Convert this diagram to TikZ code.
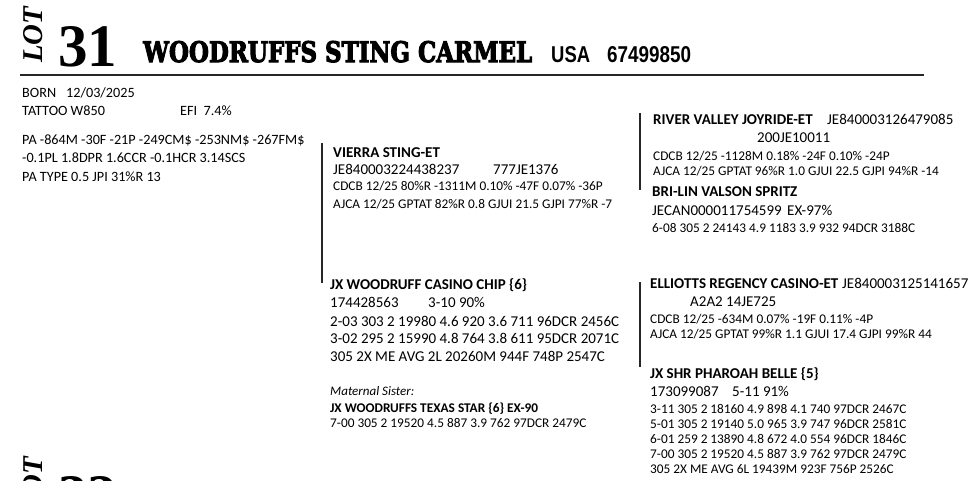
\documentclass[tikz,border=0pt]{standalone}
\usepackage{fontspec}
\usepackage{graphicx}
\newfontfamily\carlito{Carlito}
\newfontfamily\lotserif{Liberation Serif}
\newfontfamily\slabfont{DejaVu Serif}[UprightFont=* Bold, FakeBold=4]
\newfontfamily\narrowsans{Liberation Sans}
\tikzset{
  txt/.style={inner sep=0pt, anchor=base west},
  big/.style={txt, font=\carlito\fontsize{15}{18}\selectfont},
  bigb/.style={txt, font=\carlito\bfseries\fontsize{15}{18}\selectfont},
  mid/.style={txt, font=\carlito\fontsize{14.2}{17}\selectfont},
  sml/.style={txt, font=\carlito\fontsize{13.3}{16}\selectfont},
  smlb/.style={txt, font=\carlito\bfseries\fontsize{13.3}{16}\selectfont},
  smli/.style={txt, font=\carlito\itshape\fontsize{13}{16}\selectfont},
  bracket/.style={line width=1.8pt, black!85},
  rule/.style={line width=2.4pt, black!85},
}
\newcommand{\lotword}{\resizebox{56pt}{19pt}{\lotserif\bfseries\itshape LOT}}
\begin{document}
\begin{tikzpicture}[x=1pt,y=-1pt]
\useasboundingbox (0,0) rectangle (976,480);
\clip (0,0) rectangle (976,480);
% header
\node[txt, rotate=90] (lot) at (42,63) {\lotword};
\node[txt] (lotnum) at (58,66) {\resizebox{59pt}{40pt}{\lotserif\bfseries 31}};
\node[txt] (title) at (143,62) {\resizebox{389pt}{21pt}{\slabfont WOODRUFFS STING CARMEL}};
\node[txt] (usa) at (551,62) {\resizebox{39pt}{16pt}{\narrowsans\bfseries USA}};
\node[txt] (regnum) at (607,62) {\resizebox{84pt}{16pt}{\narrowsans\bfseries 67499850}};
\coordinate (ruleL) at (20,75);
\coordinate (ruleR) at (924,75);
\draw[rule] (ruleL) -- (ruleR);
% next lot, cut by the frame
\node[txt, rotate=90] (lotnext) at (42,513) {\lotword};
\node[txt] (lotnumnext) at (58,516) {\resizebox{59pt}{40pt}{\lotserif\bfseries 32}};
% animal info
\node[mid] (born) at (22,97) {BORN};
\node[mid] (borndate) at (66,97) {12/03/2025};
\node[mid] (tattoo) at (22,115) {TATTOO W850};
\node[mid] (efi) at (180,115) {EFI\ \ 7.4\%};
\node[mid] (pa1) at (22,144) {PA -864M -30F -21P -249CM\$ -253NM\$ -267FM\$};
\node[mid] (pa2) at (22,162) {-0.1PL 1.8DPR 1.6CCR -0.1HCR 3.14SCS};
\node[mid] (pa3) at (22,181) {PA TYPE 0.5 JPI 31\%R 13};
% sire
\coordinate (sireT) at (322,143);
\coordinate (sireB) at (322,283);
\draw[bracket] (sireT) -- (sireB);
\node[bigb] (sire) at (333,157) {VIERRA STING-ET};
\node[big] (sireid) at (333,174) {JE840003224438237};
\node[big] (sirenaab) at (493,174) {777JE1376};
\node[sml] (sirecdcb) at (333,190) {CDCB 12/25 80\%R -1311M 0.10\% -47F 0.07\% -36P};
\node[sml] (sireajca) at (333,208) {AJCA 12/25 GPTAT 82\%R 0.8 GJUI 21.5 GJPI 77\%R -7};
% sire's sire
\coordinate (ssT) at (640,113);
\coordinate (ssB) at (640,190);
\draw[bracket] (ssT) -- (ssB);
\node[bigb] (ss) at (653,124) {RIVER VALLEY JOYRIDE-ET};
\node[big] (ssid) at (827,124) {JE840003126479085};
\node[big] (ssnaab) at (757,142) {200JE10011};
\node[sml] (sscdcb) at (653,160) {CDCB 12/25 -1128M 0.18\% -24F 0.10\% -24P};
\node[sml] (ssajca) at (653,175) {AJCA 12/25 GPTAT 96\%R 1.0 GJUI 22.5 GJPI 94\%R -14};
% sire's dam
\node[bigb] (sd) at (652,196) {BRI-LIN VALSON SPRITZ};
\node[big] (sdid) at (652,215) {JECAN000011754599};
\node[big] (sdscore) at (787,215) {EX-97\%};
\node[sml] (sdrec) at (652,232) {6-08 305 2 24143 4.9 1183 3.9 932 94DCR 3188C};
% dam
\node[bigb] (dam) at (330,289) {JX WOODRUFF CASINO CHIP \{6\}};
\node[big] (damid) at (330,307) {174428563};
\node[big] (damscore) at (428,307) {3-10 90\%};
\node[big] (damrec1) at (330,326) {2-03 303 2 19980 4.6 920 3.6 711 96DCR 2456C};
\node[big] (damrec2) at (330,343) {3-02 295 2 15990 4.8 764 3.8 611 95DCR 2071C};
\node[big] (damavg) at (330,361) {305 2X ME AVG 2L 20260M 944F 748P 2547C};
\node[smli] (sislabel) at (330,395) {Maternal Sister:};
\node[smlb] (sis) at (330,412) {JX WOODRUFFS TEXAS STAR \{6\} EX-90};
\node[sml] (sisrec) at (330,427) {7-00 305 2 19520 4.5 887 3.9 762 97DCR 2479C};
% dam's sire
\coordinate (dsT) at (640,282);
\coordinate (dsB) at (640,367);
\draw[bracket] (dsT) -- (dsB);
\node[bigb] (ds) at (650,288) {ELLIOTTS REGENCY CASINO-ET};
\node[big] (dsid) at (842,288) {JE840003125141657};
\node[big] (dsnaab) at (690,306) {A2A2 14JE725};
\node[sml] (dscdcb) at (650,323) {CDCB 12/25 -634M 0.07\% -19F 0.11\% -4P};
\node[sml] (dsajca) at (650,338) {AJCA 12/25 GPTAT 99\%R 1.1 GJUI 17.4 GJPI 99\%R 44};
% dam's dam
\node[bigb] (dd) at (650,378) {JX SHR PHAROAH BELLE \{5\}};
\node[big] (ddid) at (650,396) {173099087};
\node[big] (ddscore) at (732,396) {5-11 91\%};
\node[sml] (ddrec1) at (650,413) {3-11 305 2 18160 4.9 898 4.1 740 97DCR 2467C};
\node[sml] (ddrec2) at (650,428) {5-01 305 2 19140 5.0 965 3.9 747 96DCR 2581C};
\node[sml] (ddrec3) at (650,443) {6-01 259 2 13890 4.8 672 4.0 554 96DCR 1846C};
\node[sml] (ddrec4) at (650,458) {7-00 305 2 19520 4.5 887 3.9 762 97DCR 2479C};
\node[sml] (ddavg) at (650,473) {305 2X ME AVG 6L 19439M 923F 756P 2526C};
\end{tikzpicture}
\end{document}
